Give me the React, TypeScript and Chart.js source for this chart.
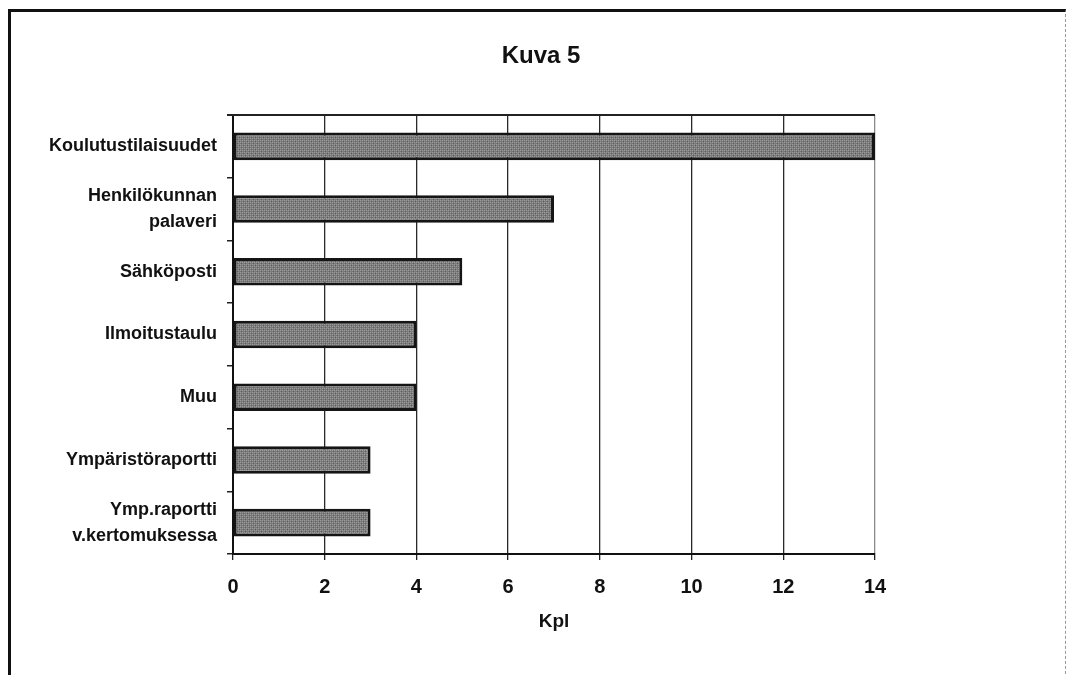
import React, { useEffect, useRef } from "react";
import { Chart, registerables } from "chart.js";

Chart.register(...registerables);

// Channels and how many times each was mentioned
const categories: string[][] = [
  ["Koulutustilaisuudet"],
  ["Henkilökunnan", "palaveri"],
  ["Sähköposti"],
  ["Ilmoitustaulu"],
  ["Muu"],
  ["Ympäristöraportti"],
  ["Ymp.raportti", "v.kertomuksessa"],
];
const counts: number[] = [14, 7, 5, 4, 4, 3, 3];
const xTickValues: number[] = [0, 2, 4, 6, 8, 10, 12, 14];
const chartTitle = "Kuva 5";
const axisTitle = "Kpl";

const FONT = "'Liberation Sans', Arial, Helvetica, sans-serif";

// Small dithered grey tile used as bar fill
function makeBarPattern(): CanvasPattern | string {
  const tile = document.createElement("canvas");
  tile.width = 4;
  tile.height = 4;
  const c = tile.getContext("2d");
  if (!c) return "#858585";
  c.fillStyle = "#7a7a7a";
  c.fillRect(0, 0, 4, 4);
  c.fillStyle = "#9c9c9c";
  c.fillRect(0, 0, 1, 1);
  c.fillRect(2, 2, 1, 1);
  c.fillRect(2, 0, 1, 1);
  c.fillRect(0, 2, 1, 1);
  c.fillStyle = "#5e5e5e";
  c.fillRect(1, 3, 1, 1);
  c.fillRect(3, 1, 1, 1);
  const p = c.createPattern(tile, "repeat");
  return p ?? "#858585";
}

const plotFrame = {
  id: "plotFrame",
  afterDraw(chart: any) {
    const { ctx, chartArea } = chart;
    const { left, right, top } = chartArea;
    ctx.save();
    // top edge of the plot area
    ctx.strokeStyle = "#222";
    ctx.lineWidth = 2;
    ctx.beginPath();
    ctx.moveTo(left - 6, top);
    ctx.lineTo(right, top);
    ctx.stroke();
    // heading
    ctx.fillStyle = "#111";
    ctx.font = `bold 24px ${FONT}`;
    ctx.textAlign = "center";
    ctx.textBaseline = "middle";
    ctx.fillText(chartTitle, 541, 56);
    ctx.restore();
  },
};

export default function App() {
  const canvasRef = useRef<HTMLCanvasElement | null>(null);

  useEffect(() => {
    const canvas = canvasRef.current;
    if (!canvas) return;
    const fill = makeBarPattern();
    const chart = new Chart(canvas, {
      type: "bar",
      data: {
        labels: categories,
        datasets: [
          {
            data: counts,
            backgroundColor: fill as any,
            borderColor: "#151515",
            borderWidth: 3,
            borderSkipped: false,
            barPercentage: 0.44,
            categoryPercentage: 1,
          },
        ],
      },
      options: {
        indexAxis: "y",
        animation: false,
        responsive: false,
        maintainAspectRatio: false,
        layout: { padding: { left: 0, top: 115, right: 195, bottom: 0 } },
        plugins: {
          legend: { display: false },
          title: { display: false },
          tooltip: { enabled: false },
        },
        scales: {
          x: {
            type: "linear",
            min: 0,
            max: 14,
            afterBuildTicks: (scale: any) => {
              scale.ticks = xTickValues.map((v) => ({ value: v }));
            },
            afterFit: (scale: any) => {
              scale.height = 121;
            },
            ticks: {
              color: "#111",
              font: { family: FONT, size: 20, weight: "bold" },
              padding: 15,
            },
            grid: {
              color: (ctx: any) => (ctx.tick && ctx.tick.value === 14 ? "#8a8a8a" : "#2a2a2a"),
              lineWidth: 1.3,
              tickLength: 6,
              tickColor: "#222",
            },
            border: { display: true, color: "#111", width: 2 },
            title: {
              display: true,
              text: axisTitle,
              color: "#111",
              font: { family: FONT, size: 19, weight: "bold" },
              padding: { top: 0, bottom: 42 },
            },
          },
          y: {
            type: "category",
            afterFit: (scale: any) => {
              scale.width = 233;
            },
            ticks: {
              color: "#111",
              font: { family: FONT, size: 18, weight: "bold", lineHeight: 1.45 },
              padding: 10,
            },
            grid: {
              offset: true,
              drawOnChartArea: false,
              drawTicks: true,
              tickLength: 6,
              tickColor: "#222",
              lineWidth: 1.5,
            },
            border: { display: true, color: "#111", width: 2 },
          },
        },
      },
      plugins: [plotFrame],
    });
    return () => chart.destroy();
  }, []);

  return (
    <div style={{ position: "absolute", left: 0, top: 0, width: 1070, height: 675, background: "#fff" }}>
      <div
        style={{
          position: "absolute",
          left: 8,
          top: 9,
          width: 1058,
          height: 680,
          borderLeft: "3px solid #111",
          borderTop: "3px solid #111",
          borderRight: "1px dashed #999",
          boxSizing: "border-box",
        }}
      />
      <canvas ref={canvasRef} width={1070} height={675} style={{ position: "absolute", left: 0, top: 0 }} />
    </div>
  );
}
